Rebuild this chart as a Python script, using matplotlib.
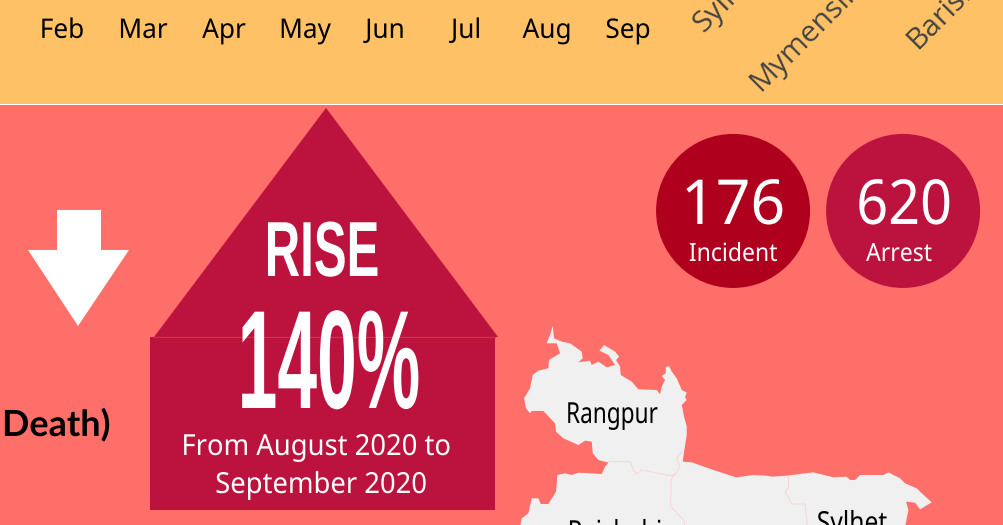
import matplotlib
matplotlib.use("Agg")
import matplotlib.pyplot as plt
from matplotlib.patches import Polygon, Rectangle, Circle
from matplotlib.patheffects import AbstractPathEffect
from matplotlib.transforms import Affine2D

months = ["Feb", "Mar", "Apr", "May", "Jun", "Jul", "Aug", "Sep"]
month_x = [62, 143, 224, 305, 385, 466, 547, 628]
divisions = ["Sylhet", "Mymensingh", "Barishal"]
division_start = [(703, 33), (760, 92), (917, 50)]
stat_values = ["176", "620"]
stat_labels = ["Incident", "Arrest"]
stat_x = [733, 903]
stat_colors = ["#AF001E", "#BC133E"]
rise_word = "RISE"
rise_value = "140%"
rise_note = ["From August 2020 to", "September 2020"]

# map outline, in zoomed-crop pixels (crop origin 500,310, factor 3)
map_outline = [(158,48),(162,85),(185,95),(210,100),(245,125),(248,145),(235,157),(270,152),(275,165),(295,155),
 (320,172),(345,165),(325,135),(298,122),(312,105),(345,125),(357,140),(348,150),(360,170),(362,195),(395,215),
 (415,238),(470,240),(480,253),(485,230),(495,210),(485,198),(497,190),(497,172),(507,168),(515,185),(530,205),
 (545,240),(560,248),(555,262),(560,270),(545,285),(552,320),(560,350),(560,375),(552,425),(548,455),(575,457),
 (640,480),(708,502),(760,495),(800,497),(815,500),(860,497),(940,487),(1000,502),(1040,500),(1050,510),(1065,510),
 (1080,495),(1150,495),(1165,487),(1200,505),(1215,520),(1250,535),(1265,550),(1295,577),(1260,598),(1245,578),
 (1218,575),(1225,600),(1215,650),(60,650),(65,625),(85,610),(95,565),(115,565),(122,582),(145,582),(168,545),
 (172,495),(195,490),(215,495),(235,488),(270,490),(305,492),(315,470),(325,458),(295,450),(278,430),(275,395),
 (255,392),(235,405),(190,385),(168,365),(165,340),(130,303),(95,303),(90,310),(78,295),(72,265),(90,235),(98,195),
 (115,182),(145,175),(147,150),(180,130),(170,100),(140,100),(150,75)]
map_borders = [
 [(325,455),(390,455),(400,480),(410,493),(425,480),(510,497),(523,495),(540,470),(530,445),(545,425)],
 [(523,495),(513,510),(512,590),(550,630),(555,650)],
 [(865,497),(865,535),(855,545),(875,582),(915,582),(922,650)],
]


class Squeeze(AbstractPathEffect):
    """Keeps text as text, but narrows its glyphs around a pixel column."""
    def __init__(self, sx, cx):
        super().__init__()
        self.sx, self.cx = sx, cx

    def draw_path(self, renderer, gc, tpath, affine, rgbFace=None):
        a = affine + Affine2D().translate(-self.cx, 0).scale(self.sx, 1).translate(self.cx, 0)
        renderer.draw_path(gc, tpath, a, rgbFace)


def px(size):
    return size * 72 / 100


def crop(points):
    return [(500 + x / 3, 310 + y / 3) for x, y in points]


fig = plt.figure(figsize=(10.031, 5.251), dpi=100)
ax = fig.add_axes([0, 0, 1, 1])
ax.set_xlim(0, 1003)
ax.set_ylim(525, 0)
ax.axis("off")

ax.add_patch(Rectangle((0, 105), 1003, 420, fc="#FF6F69", ec="none"))
ax.add_patch(Rectangle((0, 0), 1003, 104, fc="#FFC166", ec="none"))
ax.plot([0, 1003], [104.5, 104.5], color="white", lw=0.7)

BODY = ["Noto Sans", "DejaVu Sans"]
for m, x in zip(months, month_x):
    ax.text(x, 38, m, fontsize=px(27), family=BODY, color="black", ha="center", va="baseline",
            path_effects=[Squeeze(0.97, x)])
for d, (x, y) in zip(divisions, division_start):
    ax.text(x, y, d, fontsize=px(30), family="Open Sans", color="#444444", rotation=45,
            rotation_mode="anchor", ha="left", va="baseline", clip_on=False)

# down arrow
ax.add_patch(Polygon([(57, 210), (101, 210), (101, 250), (129, 250), (78, 326), (28, 250), (57, 250)],
                     fc="white", ec="none"))
ax.text(2, 436, "Death)", fontsize=px(36), family="Lato", weight="bold", color="black", ha="left", va="baseline",
        path_effects=[Squeeze(1.0, 2)])

# house
ax.add_patch(Polygon([(326, 108), (498, 337), (154, 337)], fc="#BC133E", ec="none"))
ax.add_patch(Rectangle((150, 337), 345, 173.5, fc="#BC133E", ec="none"))
ax.plot([154, 495], [336.8, 336.8], color="#D2344F", lw=0.7)
ax.text(322, 276, rise_word, fontsize=px(78), family="Liberation Sans", weight="bold", color="white",
        ha="center", va="baseline", path_effects=[Squeeze(0.63, 322)])
ax.text(329, 408, rise_value, fontsize=px(140), family="Liberation Sans", weight="bold", color="white",
        ha="center", va="baseline", path_effects=[Squeeze(0.51, 329)])
for line, y, xc in zip(rise_note, [455, 493], [316, 321]):
    ax.text(xc, y, line, fontsize=px(29), family=BODY, color="white", ha="center", va="baseline",
            path_effects=[Squeeze(0.945, xc)])

# stat circles
for v, lab, x, c, xv, xl, sv in zip(stat_values, stat_labels, stat_x, stat_colors, [733, 904], [733, 899], [0.98, 0.90]):
    ax.add_patch(Circle((x, 211), 77, fc=c, ec="none"))
    ax.text(xv, 224, v, fontsize=px(62), family=BODY, color="white", ha="center", va="baseline",
            path_effects=[Squeeze(sv, xv)])
    ax.text(xl, 261, lab, fontsize=px(25), family=BODY, color="white", ha="center", va="baseline",
            path_effects=[Squeeze(0.92, xl)])

# map
ax.add_patch(Polygon(crop(map_outline), fc="#F0F0F0", ec="none"))
for b in map_borders:
    pts = crop(b)
    ax.plot([p[0] for p in pts], [p[1] for p in pts], color="#F8D5D3", lw=0.7)
for label, x, y, s in [("Rangpur", 612, 423, 0.78), ("Rajshahi", 615, 541, 0.82), ("Sylhet", 852, 532, 0.85)]:
    ax.text(x, y, label, fontsize=px(29), family=BODY, color="black", ha="center", va="baseline",
            path_effects=[Squeeze(s, x)])

fig.savefig("out.png", dpi=100)
